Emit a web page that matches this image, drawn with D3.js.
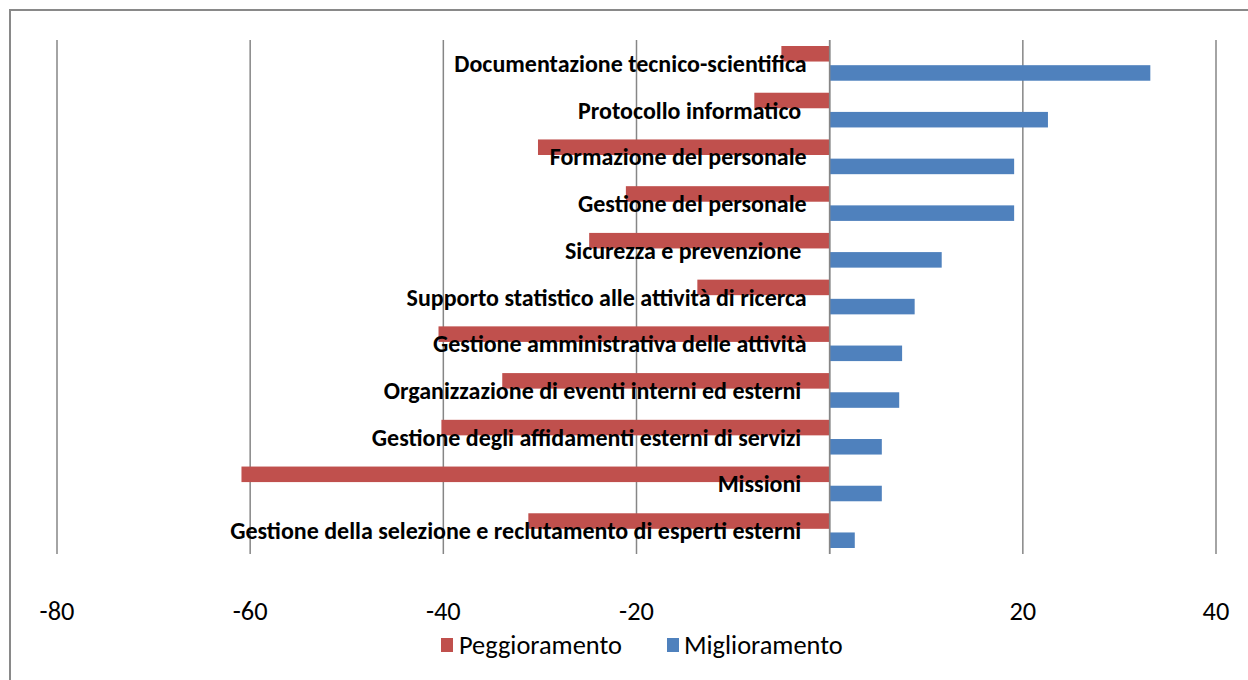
<!DOCTYPE html>
<html>
<head>
<meta charset="utf-8">
<script src="https://cdn.jsdelivr.net/npm/d3@7"></script>
<style>
  html, body { margin: 0; padding: 0; background: #fff; }
  svg { display: block; }
  text { font-family: Carlito, Lato, "Open Sans", sans-serif; }
</style>
</head>
<body>
<svg id="chart" width="1248" height="680"></svg>
<script>
// Categories, top to bottom (trailing spaces are part of the original labels)
const categories = [
  "Documentazione tecnico-scientifica",
  "Protocollo informatico ",
  "Formazione del personale",
  "Gestione del personale",
  "Sicurezza e prevenzione ",
  "Supporto statistico alle attività di ricerca",
  "Gestione amministrativa delle attività",
  "Organizzazione di eventi interni ed esterni ",
  "Gestione degli affidamenti esterni di servizi ",
  "Missioni ",
  "Gestione della selezione e reclutamento di esperti esterni "
];
const seriesNames = ["Peggioramento", "Miglioramento"];
const peggioramento = [-5.0, -7.8, -30.2, -21.1, -24.9, -13.7, -40.5, -33.9, -40.2, -60.9, -31.2];
const miglioramento = [33.2, 22.6, 19.1, 19.1, 11.6, 8.8, 7.5, 7.2, 5.4, 5.4, 2.6];
const tickValues = [-80, -60, -40, -20, 0, 20, 40];
const tickLabels = ["-80", "-60", "-40", "-20", "", "20", "40"];

const colors = { "Peggioramento": "#C0504D", "Miglioramento": "#4F81BD" };

const svg = d3.select("#chart");

// outer chart frame
svg.append("rect")
  .attr("x", 10).attr("y", 10)
  .attr("width", 1300).attr("height", 720)
  .attr("fill", "none")
  .attr("stroke", "#898989")
  .attr("stroke-width", 2);

const x = d3.scaleLinear().domain([-80, 40]).range([57, 1216]);
const y = d3.scaleBand().domain(categories).range([40, 554]);
const ySub = d3.scaleBand().domain(seriesNames)
  .range([6, y.bandwidth() - 6]).paddingInner(0.19);

// vertical gridlines
svg.append("g").selectAll("line")
  .data(tickValues)
  .join("line")
  .attr("x1", d => x(d)).attr("x2", d => x(d))
  .attr("y1", 40).attr("y2", 554)
  .attr("stroke", "#868686")
  .attr("stroke-width", 1.5);

// bars
const rows = categories.map((c, i) => ({
  cat: c,
  values: [
    { s: "Peggioramento", v: peggioramento[i] },
    { s: "Miglioramento", v: miglioramento[i] }
  ]
}));

svg.append("g").selectAll("g.row")
  .data(rows)
  .join("g")
  .attr("class", "row")
  .attr("transform", d => `translate(0,${y(d.cat)})`)
  .selectAll("rect")
  .data(d => d.values)
  .join("rect")
  .attr("x", d => x(Math.min(0, d.v)))
  .attr("width", d => Math.abs(x(d.v) - x(0)))
  .attr("y", d => ySub(d.s))
  .attr("height", ySub.bandwidth())
  .attr("fill", d => colors[d.s]);

// zero axis line on top of bars
svg.append("line")
  .attr("x1", x(0)).attr("x2", x(0))
  .attr("y1", 40).attr("y2", 554)
  .attr("stroke", "#868686")
  .attr("stroke-width", 1.5);

// category labels, right-aligned left of the zero axis
svg.append("g").selectAll("text")
  .data(categories)
  .join("text")
  .attr("x", x(0) - 23)
  .attr("y", d => y(d) + y.bandwidth() / 2 + 8.5)
  .attr("text-anchor", "end")
  .attr("font-size", 24)
  .attr("font-weight", "bold")
  .attr("fill", "#000")
  .style("white-space", "pre")
  .text(d => d);

// x tick labels
svg.append("g").selectAll("text")
  .data(tickValues)
  .join("text")
  .attr("x", d => x(d))
  .attr("y", 620)
  .attr("text-anchor", "middle")
  .attr("font-size", 26.4)
  .attr("fill", "#000")
  .text((d, i) => tickLabels[i]);

// legend
const legendItems = [
  { s: "Peggioramento", x: 441, dx: 18 },
  { s: "Miglioramento", x: 667, dx: 17 }
];
const lg = svg.append("g").selectAll("g")
  .data(legendItems)
  .join("g")
  .attr("transform", d => `translate(${d.x},638)`);
lg.append("rect")
  .attr("width", 12).attr("height", 14)
  .attr("fill", d => colors[d.s]);
lg.append("text")
  .attr("x", d => d.dx).attr("y", 15.5)
  .attr("font-size", 26.4)
  .attr("fill", "#000")
  .text(d => d.s);
</script>
</body>
</html>
